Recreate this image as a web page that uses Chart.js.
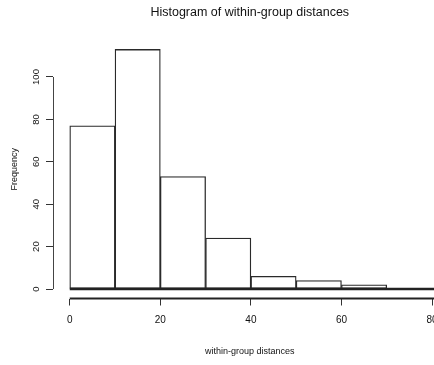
<!DOCTYPE html>
<html>
<head>
<meta charset="utf-8">
<script src="https://cdn.jsdelivr.net/npm/chart.js@4"></script>
<style>
  html, body { margin: 0; padding: 0; background: #fff; overflow: hidden; }
  #wrap { width: 470px; height: 365px; position: relative; }
</style>
</head>
<body>
<div id="wrap"><canvas id="c"></canvas></div>
<script>
const binStarts = [0, 10, 20, 30, 40, 50, 60, 70];
const binWidth = 10;
const frequencies = [77, 113, 53, 24, 6, 4, 2, 0];
const xTickValues = [0, 20, 40, 60, 80];
const yTickValues = [0, 20, 40, 60, 80, 100];
const titleText = 'Histogram of within-group distances';
const xTitle = 'within-group distances';
const yTitle = 'Frequency';

const FONT = '"Liberation Sans Narrow", "Liberation Sans", Arial, sans-serif';

const barData = binStarts.map((s, i) => ({ x: s + binWidth / 2, y: frequencies[i] }));

const axisPlugin = {
  id: 'rAxes',
  afterDraw(chart) {
    const { ctx, chartArea, scales } = chart;
    const xs = scales.x, ys = scales.y;
    ctx.save();
    // y axis line
    ctx.strokeStyle = '#444';
    ctx.lineWidth = 1;
    ctx.beginPath();
    ctx.moveTo(chartArea.left + 0.5, ys.getPixelForValue(yTickValues[0]));
    ctx.lineTo(chartArea.left + 0.5, ys.getPixelForValue(yTickValues[yTickValues.length - 1]));
    ctx.stroke();
    // x axis line
    ctx.strokeStyle = '#222';
    ctx.lineWidth = 2;
    ctx.beginPath();
    ctx.moveTo(xs.getPixelForValue(xTickValues[0]), chartArea.bottom);
    ctx.lineTo(chartArea.right, chartArea.bottom);
    ctx.stroke();
    // zero baseline
    ctx.lineWidth = 2.5;
    ctx.strokeStyle = '#222';
    ctx.beginPath();
    ctx.moveTo(xs.getPixelForValue(0), ys.getPixelForValue(0));
    ctx.lineTo(chartArea.right, ys.getPixelForValue(0));
    ctx.stroke();
    ctx.restore();
  }
};

new Chart(document.getElementById('c'), {
  type: 'bar',
  data: {
    datasets: [{
      data: barData,
      backgroundColor: '#ffffff',
      borderColor: '#2a2a2a',
      borderWidth: 1.3,
      barPercentage: 1,
      categoryPercentage: 1,
      borderSkipped: false
    }]
  },
  options: {
    responsive: true,
    maintainAspectRatio: false,
    animation: false,
    events: [],
    layout: { padding: { left: 0, right: 23.5, top: 0, bottom: 0 } },
    plugins: {
      legend: { display: false },
      tooltip: { enabled: false },
      title: {
        display: true,
        fullSize: false,
        text: titleText,
        color: '#111',
        font: { family: FONT, size: 12.5, weight: 'normal' },
        padding: { top: 5, bottom: 20 }
      }
    },
    scales: {
      x: {
        type: 'linear',
        offset: false,
        min: -3.7,
        max: 83.2,
        afterFit(s) { s.height = 66.5; },
        afterBuildTicks(s) { s.ticks = xTickValues.map(v => ({ value: v })); },
        border: { display: false },
        grid: { display: true, offset: false, drawOnChartArea: false, drawTicks: true, tickLength: 7, color: '#333', lineWidth: 1 },
        ticks: {
          color: '#111', padding: 9,
          maxRotation: 0, minRotation: 0, autoSkip: false,
          font: { family: FONT, size: 10 }
        },
        title: {
          display: true, text: xTitle, color: '#111',
          font: { family: FONT, size: 9 },
          padding: { top: 7.6, bottom: 7.6 }
        }
      },
      y: {
        type: 'linear',
        min: -4.48,
        max: 117.45,
        afterFit(s) { s.width = 53; },
        afterBuildTicks(s) { s.ticks = yTickValues.map(v => ({ value: v })); },
        border: { display: false },
        grid: { display: true, drawOnChartArea: false, drawTicks: true, tickLength: 7, color: '#333', lineWidth: 1 },
        ticks: {
          color: '#111', padding: 2, crossAlign: 'center',
          minRotation: 90, maxRotation: 90, autoSkip: false,
          font: { family: FONT, size: 9.5 }
        },
        title: {
          display: true, text: yTitle, color: '#111',
          font: { family: FONT, size: 9 },
          padding: { top: 9.6, bottom: 9.6 }
        }
      }
    }
  },
  plugins: [axisPlugin]
});
</script>
</body>
</html>
